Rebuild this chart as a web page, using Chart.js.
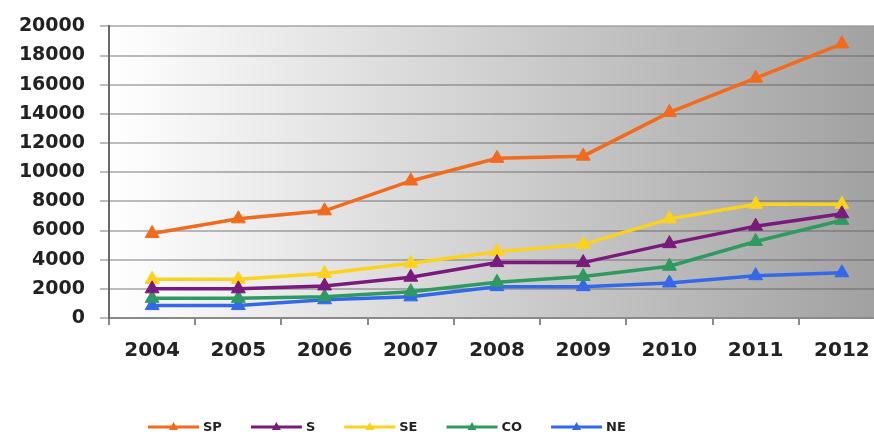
<!DOCTYPE html>
<html>
<head>
<meta charset="utf-8">
<style>
  html, body { margin: 0; padding: 0; background: #fff; overflow: hidden; }
</style>
</head>
<body>
<canvas id="chart" width="894" height="437"></canvas>
<script src="https://cdn.jsdelivr.net/npm/chart.js@4"></script>
<script>
const years = ['2004', '2005', '2006', '2007', '2008', '2009', '2010', '2011', '2012'];
const sp = [5800, 6800, 7350, 9400, 10950, 11100, 14100, 16450, 18800];
const s = [2000, 2000, 2200, 2800, 3800, 3800, 5100, 6300, 7150];
const se = [2650, 2650, 3050, 3750, 4550, 5050, 6800, 7800, 7800];
const co = [1350, 1350, 1450, 1800, 2450, 2850, 3550, 5250, 6700];
const ne = [850, 850, 1250, 1450, 2150, 2150, 2400, 2900, 3100];
const yTicks = [0, 2000, 4000, 6000, 8000, 10000, 12000, 14000, 16000, 18000, 20000];

const font = '"DejaVu Sans", Verdana, sans-serif';

// gray gradient behind the plot area
const plotBackground = {
  id: 'plotBackground',
  beforeDraw(chart) {
    const { ctx, chartArea: a } = chart;
    const g = ctx.createLinearGradient(a.left, 0, a.right, 0);
    g.addColorStop(0, '#ffffff');
    g.addColorStop(1, '#a0a0a0');
    ctx.save();
    ctx.fillStyle = g;
    ctx.fillRect(a.left, a.top, a.right - a.left, a.bottom - a.top);
    ctx.restore();
  }
};

// legend with line + triangle marker, like the spreadsheet one
const lineLegend = {
  id: 'lineLegend',
  afterDraw(chart) {
    const ctx = chart.ctx;
    let x = 148;
    const y = 427;
    ctx.save();
    ctx.font = 'bold 13px ' + font;
    ctx.textBaseline = 'middle';
    chart.data.datasets.forEach(ds => {
      ctx.strokeStyle = ds.borderColor;
      ctx.lineWidth = 3;
      ctx.beginPath();
      ctx.moveTo(x, y);
      ctx.lineTo(x + 51, y);
      ctx.stroke();
      ctx.fillStyle = ds.borderColor;
      ctx.beginPath();
      ctx.moveTo(x + 25.5, y - 5);
      ctx.lineTo(x + 30, y + 3);
      ctx.lineTo(x + 21, y + 3);
      ctx.closePath();
      ctx.fill();
      ctx.fillStyle = '#222';
      ctx.fillText(ds.label, x + 55, y + 1);
      x += 55 + ctx.measureText(ds.label).width + 29;
    });
    ctx.restore();
  }
};

function series(label, data, color) {
  return {
    label: label,
    data: data,
    borderColor: color,
    backgroundColor: color,
    borderWidth: 3.5,
    pointStyle: 'triangle',
    pointRadius: 8,
    pointBorderWidth: 1,
    pointBackgroundColor: color,
    pointBorderColor: color,
    tension: 0
  };
}

new Chart(document.getElementById('chart'), {
  type: 'line',
  data: {
    labels: years,
    datasets: [
      series('SP', sp, '#f26a1b'),
      series('S', s, '#7a1a7c'),
      series('SE', se, '#fdd21c'),
      series('CO', co, '#2f9a60'),
      series('NE', ne, '#3369e8')
    ]
  },
  options: {
    responsive: false,
    animation: false,
    devicePixelRatio: 1,
    layout: { padding: { top: 24, right: 0, bottom: 0, left: 0 } },
    plugins: {
      legend: { display: false },
      tooltip: { enabled: false }
    },
    scales: {
      x: {
        offset: true,
        grid: { drawOnChartArea: false, drawTicks: true, tickLength: 7, color: '#8a8a8a', lineWidth: 2, offset: true },
        border: { color: '#8a8a8a', width: 2 },
        ticks: { font: { family: font, size: 20, weight: 'bold' }, color: '#222', padding: 14, maxRotation: 0 },
        afterFit: scale => { scale.height = 119; }
      },
      y: {
        min: 0,
        max: 20000,
        afterBuildTicks: scale => { scale.ticks = yTicks.map(v => ({ value: v })); },
        grid: { color: 'rgba(90,90,90,0.4)', lineWidth: 2, tickLength: 9 },
        border: { color: '#6a6a6a', width: 2 },
        ticks: {
          font: { family: font, size: 19, weight: 'bold' },
          color: '#222',
          padding: 15,
          callback: v => String(v)
        },
        afterFit: scale => { scale.width = 109; }
      }
    }
  },
  plugins: [plotBackground, lineLegend]
});
</script>
</body>
</html>
